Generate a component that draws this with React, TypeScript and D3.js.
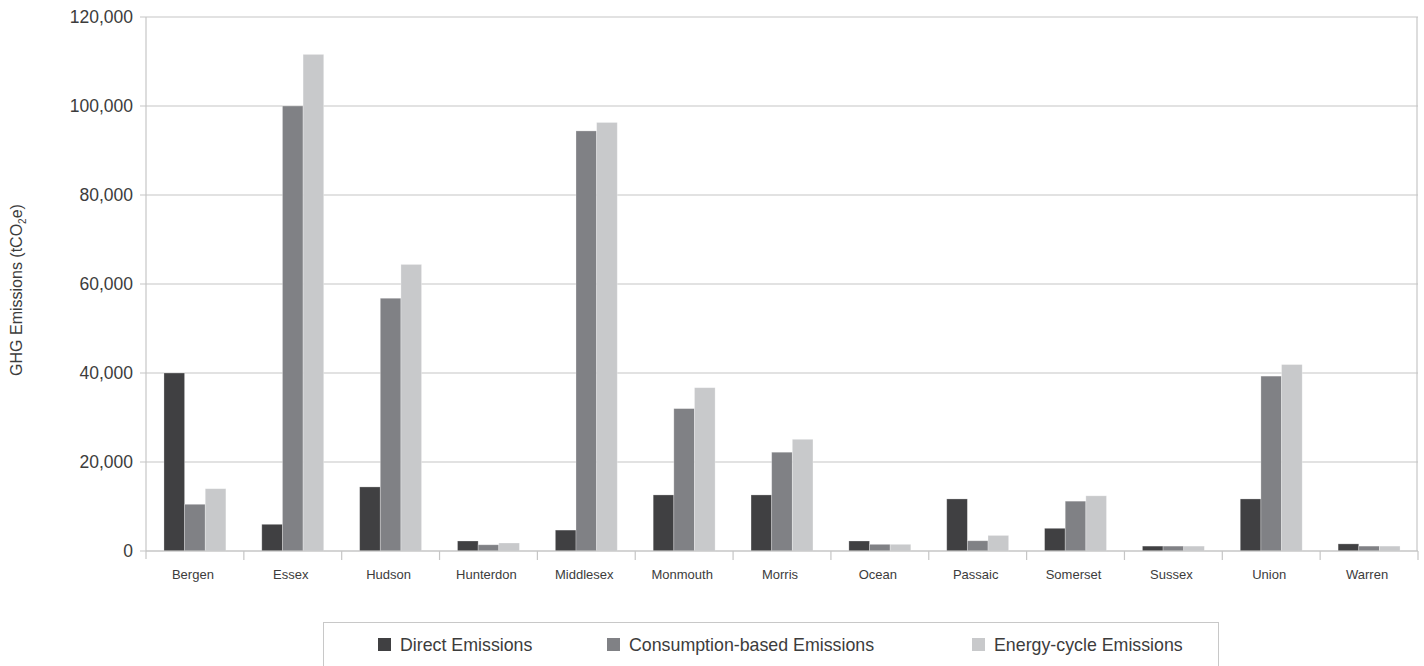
import React from "react";
import * as d3 from "d3";

const categories = ["Bergen", "Essex", "Hudson", "Hunterdon", "Middlesex", "Monmouth", "Morris", "Ocean", "Passaic", "Somerset", "Sussex", "Union", "Warren"];
const seriesNames = ["Direct Emissions", "Consumption-based Emissions", "Energy-cycle Emissions"];
const directEmissions = [40000, 6000, 14400, 2250, 4700, 12600, 12600, 2250, 11700, 5100, 1100, 11700, 1600];
const consumptionEmissions = [10500, 100000, 56800, 1400, 94400, 32000, 22200, 1500, 2300, 11200, 1100, 39300, 1100];
const energyCycleEmissions = [14000, 111600, 64400, 1800, 96300, 36700, 25100, 1500, 3500, 12400, 1100, 41900, 1100];
const yTicks = [0, 20000, 40000, 60000, 80000, 100000, 120000];
const colors = ["#404042", "#808185", "#c8c9cb"];

export default function App() {
  const W = 1424, H = 666;
  const left = 146, right = 1418, top = 17, bottom = 551;
  const x = d3.scaleBand<string>().domain(categories).range([left, right]).paddingInner(0).paddingOuter(0);
  const x1 = d3.scaleBand<string>().domain(seriesNames).range([0, x.bandwidth()]).paddingInner(0).paddingOuter(0.87);
  const y = d3.scaleLinear().domain([0, 120000]).range([bottom, top]);
  const fmt = d3.format(",");
  const seriesValues = [directEmissions, consumptionEmissions, energyCycleEmissions];
  const font = "'Liberation Sans', Arial, sans-serif";
  const textColor = "#3c3c3c";
  const gridColor = "#c6c6c6";

  const legendX = [378, 607, 972];

  return (
    <svg width={W} height={H} style={{ position: "absolute", left: 0, top: 0, background: "#fff" }} fontFamily={font}>
      {yTicks.map((t) => (
        <g key={t}>
          <line x1={left - 6} x2={right} y1={y(t)} y2={y(t)} stroke={gridColor} strokeWidth={1.2} />
          <text x={133} y={y(t)} dy="0.36em" textAnchor="end" fontSize={17.5} fill={textColor}>{fmt(t)}</text>
        </g>
      ))}
      <line x1={left} x2={left} y1={top} y2={bottom + 8} stroke={gridColor} strokeWidth={1.2} />
      <line x1={right - 1} x2={right - 1} y1={top} y2={bottom} stroke={gridColor} strokeWidth={1.2} />
      {categories.map((c, i) => (
        <g key={c}>
          <line x1={(x(c) as number) + x.bandwidth()} x2={(x(c) as number) + x.bandwidth()} y1={bottom} y2={bottom + 9} stroke={gridColor} strokeWidth={1.2} />
          {seriesNames.map((s, j) => (
            <rect key={s} x={(x(c) as number) + (x1(s) as number)} width={x1.bandwidth()} y={y(seriesValues[j][i])} height={bottom - y(seriesValues[j][i])} fill={colors[j]} stroke="#ffffff" strokeOpacity={0.35} strokeWidth={0.8} />
          ))}
          <text x={(x(c) as number) + x.bandwidth() / 2 - 2} y={579} textAnchor="middle" fontSize={13} fill={textColor}>{c}</text>
        </g>
      ))}
      <line x1={left} x2={right} y1={bottom} y2={bottom} stroke={gridColor} strokeWidth={1.2} />
      <text transform={`translate(22,${(top + bottom) / 2 + 6}) rotate(-90)`} textAnchor="middle" fontSize={16} fill={textColor}>
        GHG Emissions (tCO<tspan fontSize={10} dy={4}>2</tspan><tspan dy={-4}>e)</tspan>
      </text>
      <rect x={323.5} y={622.5} width={895} height={60} fill="none" stroke="#c8c8c8" strokeWidth={1} />
      {seriesNames.map((s, j) => (
        <g key={s}>
          <rect x={legendX[j]} y={638} width={13} height={13} fill={colors[j]} />
          <text x={legendX[j] + 22} y={645} dy="0.36em" fontSize={17.8} fill={textColor}>{s}</text>
        </g>
      ))}
    </svg>
  );
}
